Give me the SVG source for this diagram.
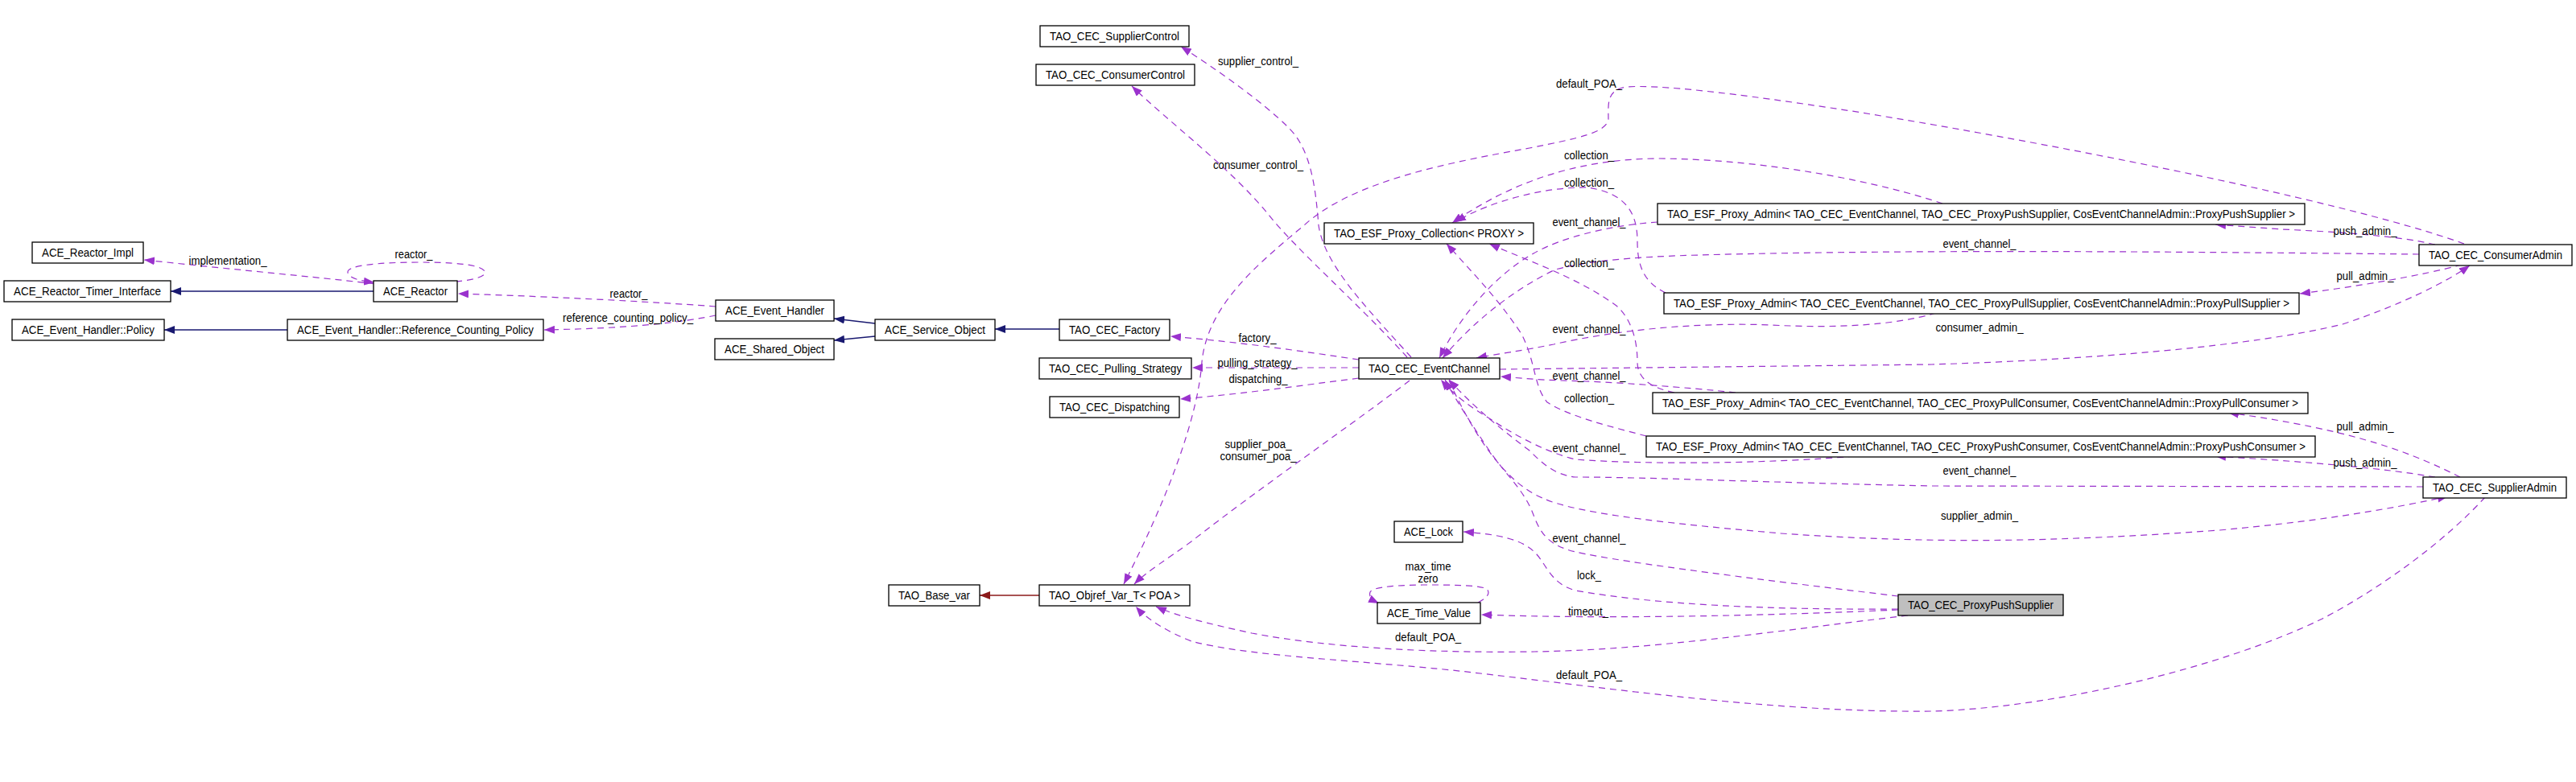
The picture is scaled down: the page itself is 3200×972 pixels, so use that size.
<svg xmlns="http://www.w3.org/2000/svg" width="3200" height="972" viewBox="0 0 3200 972">
<style>
.n rect{fill:#fff;stroke:#000;stroke-width:1.3}
.n.hl rect{fill:#bfbfbf}
text{font-family:"Liberation Sans Narrow","Liberation Sans",Arial,sans-serif;font-size:14px;fill:#000;text-anchor:middle}
.u{fill:none;stroke:#9a32cd;stroke-width:1.2;stroke-dasharray:8,6;marker-end:url(#ap)}
.i{fill:none;stroke:#191970;stroke-width:1.3;marker-end:url(#ab)}
.r{fill:none;stroke:#8b1a1a;stroke-width:1.3;marker-end:url(#ar)}
</style>
<defs>
<marker id="ap" markerUnits="userSpaceOnUse" markerWidth="14" markerHeight="10" refX="13" refY="5" orient="auto"><path d="M0,0 L13,5 L0,10 z" fill="#9a32cd"/></marker>
<marker id="ab" markerUnits="userSpaceOnUse" markerWidth="14" markerHeight="10" refX="13" refY="5" orient="auto"><path d="M0,0 L13,5 L0,10 z" fill="#191970"/></marker>
<marker id="ar" markerUnits="userSpaceOnUse" markerWidth="14" markerHeight="10" refX="13" refY="5" orient="auto"><path d="M0,0 L13,5 L0,10 z" fill="#8b1a1a"/></marker>
</defs>
<rect width="3200" height="972" fill="#fff"/>
<g id="connectors">
<path class="i" d="M464,362 L212,362"/>
<path class="i" d="M357,410 L204,410"/>
<path class="i" d="M1087,402 L1036,396"/>
<path class="i" d="M1087,418 L1036,423"/>
<path class="i" d="M1316,409 L1236,409"/>
<path class="r" d="M1291,740 L1217,740"/>
<path class="u" d="M466,353 C420,347 300,336 179,323"/>
<path class="u" d="M566,350 C590,348 606,343 602,337 C596,328 560,326 520,326 C470,326 432,330 432,338 C432,345 445,349 465,351"/>
<path class="u" d="M889,381 C840,377 700,369 569,365"/>
<path class="u" d="M889,392 C850,400 790,408 676,410"/>
<path class="u" d="M1688,447 C1620,437 1540,425 1454,418"/>
<path class="u" d="M1688,457 L1481,457"/>
<path class="u" d="M1688,470 C1610,480 1540,490 1466,496"/>
<path class="u" d="M1753,444 C1700,385 1645,330 1638,280 C1634,230 1628,185 1600,158 C1570,128 1510,85 1467,58"/>
<path class="u" d="M1748,444 C1690,380 1610,310 1576,267 C1530,210 1450,150 1406,107"/>
<path class="u" d="M3061,303 C2900,245 2500,170 2300,138 C2150,115 2060,105 2020,108 C1995,112 1998,130 1998,148 C1996,165 1960,172 1900,184 C1800,202 1680,225 1620,280 C1560,330 1500,380 1493,450 C1488,520 1450,620 1396,726"/>
<path class="u" d="M1751,473 C1690,520 1560,610 1480,673 C1450,695 1425,710 1409,726"/>
<path class="u" d="M2370,765 C2200,785 2050,808 1906,810 C1780,812 1650,805 1555,787 C1500,775 1460,765 1436,754"/>
<path class="u" d="M3087,618 C3040,670 2960,730 2885,769 C2760,830 2550,880 2400,884 C2200,886 2000,855 1804,833 C1650,818 1550,815 1480,797 C1450,785 1425,770 1411,754"/>
<path class="u" d="M2358,757 C2200,758 2060,752 1957,734 C1925,725 1921,700 1906,686 C1890,670 1860,664 1818,661"/>
<path class="u" d="M2358,758 C2200,765 2000,770 1840,764"/>
<path class="u" d="M1836,749 C1850,742 1852,735 1845,731 C1830,727 1800,727 1773,727 C1740,727 1705,729 1702,736 C1700,742 1705,746 1713,750"/>
<path class="u" d="M2358,741 C2200,722 2020,700 1957,686 C1925,678 1915,665 1906,643 C1895,610 1870,590 1850,560 C1830,530 1810,500 1795,472"/>
<path class="u" d="M3010,605 L2400,604 C2200,600 2050,593 1957,593 C1930,590 1915,575 1900,560 C1860,530 1830,505 1800,472"/>
<path class="u" d="M2304,567 C2200,576 2050,578 1957,571 C1920,562 1880,540 1850,520 C1825,505 1805,490 1790,472"/>
<path class="u" d="M1800,473 C1830,540 1870,600 1916,619 C1960,640 2100,653 2212,663 C2400,676 2550,674 2757,659 C2900,646 2980,630 3041,617"/>
<path class="u" d="M1863,459 L2400,453 C2600,447 2800,430 2910,403 C2980,380 3040,350 3068,330"/>
<path class="u" d="M3005,316 C2800,314 2400,309 2110,317 C2000,320 1960,328 1932,335 C1880,360 1830,400 1792,445"/>
<path class="u" d="M2059,276 C2000,280 1940,295 1905,315 C1860,340 1815,390 1788,445"/>
<path class="u" d="M2405,389 C2350,405 2280,408 2200,404 C2100,400 2000,412 1930,428 C1890,436 1860,440 1834,445"/>
<path class="u" d="M2156,488 C2100,482 2000,474 1940,473 C1910,472 1890,470 1864,468"/>
<path class="u" d="M2413,253 C2340,228 2200,198 2059,197 C1960,198 1880,225 1804,277"/>
<path class="u" d="M2069,364 C2045,352 2034,335 2034,300 C2034,265 2020,240 1972,233 C1920,232 1850,250 1808,276"/>
<path class="u" d="M2080,488 C2050,482 2034,470 2034,450 C2034,420 2025,395 2008,380 C1960,345 1900,325 1850,303"/>
<path class="u" d="M2045,542 C2000,530 1950,518 1922,500 C1905,480 1908,450 1890,415 C1860,370 1830,340 1797,303"/>
<path class="u" d="M3025,304 C2980,293 2900,288 2834,285 L2752,279"/>
<path class="u" d="M3058,329 C3010,342 2930,356 2857,365"/>
<path class="u" d="M3056,593 C3000,565 2930,535 2768,513"/>
<path class="u" d="M3025,593 C2960,582 2880,575 2752,567"/>
<text x="283" y="329" textLength="97" lengthAdjust="spacingAndGlyphs">implementation_</text>
<text x="514" y="321" textLength="47" lengthAdjust="spacingAndGlyphs">reactor_</text>
<text x="781" y="370" textLength="47" lengthAdjust="spacingAndGlyphs">reactor_</text>
<text x="780" y="400" textLength="162" lengthAdjust="spacingAndGlyphs">reference_counting_policy_</text>
<text x="1563" y="81" textLength="100" lengthAdjust="spacingAndGlyphs">supplier_control_</text>
<text x="1563" y="210" textLength="112" lengthAdjust="spacingAndGlyphs">consumer_control_</text>
<text x="1562" y="425" textLength="47" lengthAdjust="spacingAndGlyphs">factory_</text>
<text x="1562" y="456" textLength="99" lengthAdjust="spacingAndGlyphs">pulling_strategy_</text>
<text x="1563" y="476" textLength="73" lengthAdjust="spacingAndGlyphs">dispatching_</text>
<text x="1563" y="557" textLength="83" lengthAdjust="spacingAndGlyphs">supplier_poa_</text>
<text x="1563" y="572" textLength="95" lengthAdjust="spacingAndGlyphs">consumer_poa_</text>
<text x="1974" y="109" textLength="82" lengthAdjust="spacingAndGlyphs">default_POA_</text>
<text x="1974" y="198" textLength="62" lengthAdjust="spacingAndGlyphs">collection_</text>
<text x="1974" y="232" textLength="62" lengthAdjust="spacingAndGlyphs">collection_</text>
<text x="1974" y="281" textLength="91" lengthAdjust="spacingAndGlyphs">event_channel_</text>
<text x="1974" y="332" textLength="62" lengthAdjust="spacingAndGlyphs">collection_</text>
<text x="1974" y="414" textLength="91" lengthAdjust="spacingAndGlyphs">event_channel_</text>
<text x="1974" y="472" textLength="91" lengthAdjust="spacingAndGlyphs">event_channel_</text>
<text x="1974" y="500" textLength="62" lengthAdjust="spacingAndGlyphs">collection_</text>
<text x="1974" y="562" textLength="91" lengthAdjust="spacingAndGlyphs">event_channel_</text>
<text x="1974" y="674" textLength="91" lengthAdjust="spacingAndGlyphs">event_channel_</text>
<text x="1774" y="709" textLength="57" lengthAdjust="spacingAndGlyphs">max_time</text>
<text x="1774" y="724" textLength="25" lengthAdjust="spacingAndGlyphs">zero</text>
<text x="1974" y="720" textLength="30" lengthAdjust="spacingAndGlyphs">lock_</text>
<text x="1973" y="765" textLength="50" lengthAdjust="spacingAndGlyphs">timeout_</text>
<text x="1774" y="797" textLength="82" lengthAdjust="spacingAndGlyphs">default_POA_</text>
<text x="1974" y="844" textLength="82" lengthAdjust="spacingAndGlyphs">default_POA_</text>
<text x="2938" y="292" textLength="79" lengthAdjust="spacingAndGlyphs">push_admin_</text>
<text x="2459" y="308" textLength="91" lengthAdjust="spacingAndGlyphs">event_channel_</text>
<text x="2938" y="348" textLength="71" lengthAdjust="spacingAndGlyphs">pull_admin_</text>
<text x="2459" y="412" textLength="109" lengthAdjust="spacingAndGlyphs">consumer_admin_</text>
<text x="2938" y="535" textLength="71" lengthAdjust="spacingAndGlyphs">pull_admin_</text>
<text x="2938" y="580" textLength="79" lengthAdjust="spacingAndGlyphs">push_admin_</text>
<text x="2459" y="590" textLength="91" lengthAdjust="spacingAndGlyphs">event_channel_</text>
<text x="2459" y="646" textLength="96" lengthAdjust="spacingAndGlyphs">supplier_admin_</text>
</g>
<g id="ACE_Reactor_Impl" class="n"><rect x="40" y="301" width="138" height="26"/><text x="109" y="319" textLength="114" lengthAdjust="spacingAndGlyphs">ACE_Reactor_Impl</text></g>
<g id="ACE_Reactor_Timer_Interface" class="n"><rect x="5" y="349" width="207" height="26"/><text x="108.5" y="367" textLength="183" lengthAdjust="spacingAndGlyphs">ACE_Reactor_Timer_Interface</text></g>
<g id="ACE_Event_Handler_Policy" class="n"><rect x="15" y="397" width="189" height="26"/><text x="109.5" y="415" textLength="165" lengthAdjust="spacingAndGlyphs">ACE_Event_Handler::Policy</text></g>
<g id="ACE_Reactor" class="n"><rect x="464" y="349" width="104" height="26"/><text x="516" y="367" textLength="80" lengthAdjust="spacingAndGlyphs">ACE_Reactor</text></g>
<g id="ACE_Event_Handler_Reference_Counting_Policy" class="n"><rect x="357" y="397" width="318" height="26"/><text x="516" y="415" textLength="294" lengthAdjust="spacingAndGlyphs">ACE_Event_Handler::Reference_Counting_Policy</text></g>
<g id="ACE_Event_Handler" class="n"><rect x="889" y="373" width="147" height="26"/><text x="962.5" y="391" textLength="123" lengthAdjust="spacingAndGlyphs">ACE_Event_Handler</text></g>
<g id="ACE_Shared_Object" class="n"><rect x="888" y="421" width="148" height="26"/><text x="962" y="439" textLength="124" lengthAdjust="spacingAndGlyphs">ACE_Shared_Object</text></g>
<g id="ACE_Service_Object" class="n"><rect x="1087" y="397" width="149" height="26"/><text x="1161.5" y="415" textLength="125" lengthAdjust="spacingAndGlyphs">ACE_Service_Object</text></g>
<g id="TAO_CEC_Factory" class="n"><rect x="1316" y="397" width="137" height="26"/><text x="1384.5" y="415" textLength="113" lengthAdjust="spacingAndGlyphs">TAO_CEC_Factory</text></g>
<g id="TAO_CEC_Pulling_Strategy" class="n"><rect x="1291" y="445" width="189" height="26"/><text x="1385.5" y="463" textLength="165" lengthAdjust="spacingAndGlyphs">TAO_CEC_Pulling_Strategy</text></g>
<g id="TAO_CEC_Dispatching" class="n"><rect x="1304" y="493" width="161" height="26"/><text x="1384.5" y="511" textLength="137" lengthAdjust="spacingAndGlyphs">TAO_CEC_Dispatching</text></g>
<g id="TAO_CEC_SupplierControl" class="n"><rect x="1292" y="32" width="185" height="26"/><text x="1384.5" y="50" textLength="161" lengthAdjust="spacingAndGlyphs">TAO_CEC_SupplierControl</text></g>
<g id="TAO_CEC_ConsumerControl" class="n"><rect x="1287" y="80" width="197" height="26"/><text x="1385.5" y="98" textLength="173" lengthAdjust="spacingAndGlyphs">TAO_CEC_ConsumerControl</text></g>
<g id="TAO_CEC_EventChannel" class="n"><rect x="1688" y="445" width="175" height="26"/><text x="1775.5" y="463" textLength="151" lengthAdjust="spacingAndGlyphs">TAO_CEC_EventChannel</text></g>
<g id="TAO_ESF_Proxy_Collection" class="n"><rect x="1645" y="277" width="260" height="26"/><text x="1775" y="295" textLength="236" lengthAdjust="spacingAndGlyphs">TAO_ESF_Proxy_Collection&lt; PROXY &gt;</text></g>
<g id="Proxy_Admin_PushSupplier" class="n"><rect x="2059" y="253" width="804" height="26"/><text x="2461" y="271" textLength="780" lengthAdjust="spacingAndGlyphs">TAO_ESF_Proxy_Admin&lt; TAO_CEC_EventChannel, TAO_CEC_ProxyPushSupplier, CosEventChannelAdmin::ProxyPushSupplier &gt;</text></g>
<g id="Proxy_Admin_PullSupplier" class="n"><rect x="2067" y="364" width="789" height="26"/><text x="2461.5" y="382" textLength="765" lengthAdjust="spacingAndGlyphs">TAO_ESF_Proxy_Admin&lt; TAO_CEC_EventChannel, TAO_CEC_ProxyPullSupplier, CosEventChannelAdmin::ProxyPullSupplier &gt;</text></g>
<g id="Proxy_Admin_PullConsumer" class="n"><rect x="2053" y="488" width="814" height="26"/><text x="2460" y="506" textLength="790" lengthAdjust="spacingAndGlyphs">TAO_ESF_Proxy_Admin&lt; TAO_CEC_EventChannel, TAO_CEC_ProxyPullConsumer, CosEventChannelAdmin::ProxyPullConsumer &gt;</text></g>
<g id="Proxy_Admin_PushConsumer" class="n"><rect x="2045" y="542" width="831" height="26"/><text x="2460.5" y="560" textLength="807" lengthAdjust="spacingAndGlyphs">TAO_ESF_Proxy_Admin&lt; TAO_CEC_EventChannel, TAO_CEC_ProxyPushConsumer, CosEventChannelAdmin::ProxyPushConsumer &gt;</text></g>
<g id="TAO_CEC_ConsumerAdmin" class="n"><rect x="3005" y="304" width="190" height="26"/><text x="3100" y="322" textLength="166" lengthAdjust="spacingAndGlyphs">TAO_CEC_ConsumerAdmin</text></g>
<g id="TAO_CEC_SupplierAdmin" class="n"><rect x="3010" y="593" width="178" height="26"/><text x="3099" y="611" textLength="154" lengthAdjust="spacingAndGlyphs">TAO_CEC_SupplierAdmin</text></g>
<g id="ACE_Lock" class="n"><rect x="1732" y="648" width="85" height="26"/><text x="1774.5" y="666" textLength="61" lengthAdjust="spacingAndGlyphs">ACE_Lock</text></g>
<g id="ACE_Time_Value" class="n"><rect x="1711" y="749" width="128" height="26"/><text x="1775" y="767" textLength="104" lengthAdjust="spacingAndGlyphs">ACE_Time_Value</text></g>
<g id="TAO_CEC_ProxyPushSupplier" class="n hl"><rect x="2358" y="739" width="205" height="26"/><text x="2460.5" y="757" textLength="181" lengthAdjust="spacingAndGlyphs">TAO_CEC_ProxyPushSupplier</text></g>
<g id="TAO_Base_var" class="n"><rect x="1104" y="727" width="113" height="26"/><text x="1160.5" y="745" textLength="89" lengthAdjust="spacingAndGlyphs">TAO_Base_var</text></g>
<g id="TAO_Objref_Var_T_POA" class="n"><rect x="1291" y="727" width="187" height="26"/><text x="1384.5" y="745" textLength="163" lengthAdjust="spacingAndGlyphs">TAO_Objref_Var_T&lt; POA &gt;</text></g>
</svg>
